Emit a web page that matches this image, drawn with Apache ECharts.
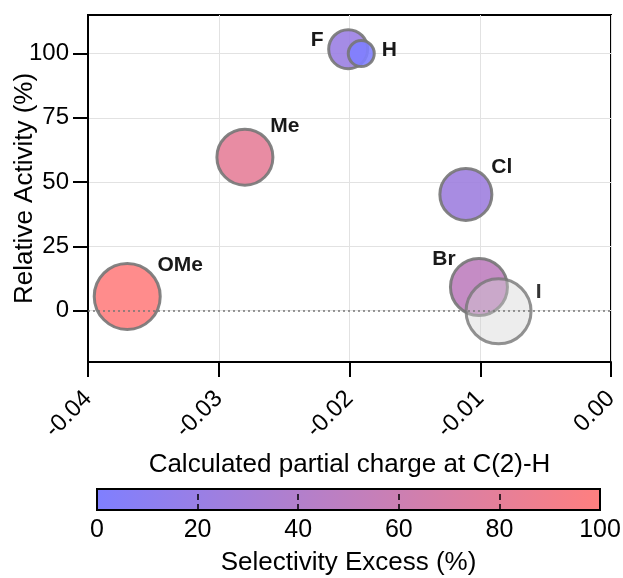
<!DOCTYPE html>
<html>
<head>
<meta charset="utf-8">
<script src="https://cdn.jsdelivr.net/npm/echarts@6/dist/echarts.min.js"></script>
<style>
  html, body { margin: 0; padding: 0; background: #fff; }
  #chart { width: 623px; height: 578px; }
</style>
</head>
<body>
<div id="chart"></div>
<script>
// substituents and their values
var groups = ['OMe', 'Me', 'F', 'H', 'Cl', 'Br', 'I'];
var charge = [-0.0370, -0.0280, -0.0201, -0.0191, -0.0111, -0.0101, -0.0086];
var activity = [5.5, 59.7, 101.7, 100, 45.2, 9.2, -0.3];
var bubbleValue = [66, 56, 39, 26, 52, 57, 65];
var selectivity = [100, 80, 22, 0, 25, 50, null]; // I has no selectivity -> grey

var yTicks = [0, 25, 50, 75, 100];
var colorTicks = [0, 20, 40, 60, 80, 100];
var colorStops = ['#7f7fff', '#ff7f7f'];

// label offsets (px) from bubble centre
var labelOffset = {
  OMe: [53, -31], Me: [40, -31], F: [-31, -9], H: [28, -3],
  Cl: [36, -27], Br: [-35, -28], I: [40, -19]
};

var FONT = 'Arial, "Liberation Sans", sans-serif';

var coloured = [], grey = [];
for (var i = 0; i < groups.length; i++) {
  var item = {
    name: groups[i],
    value: [charge[i], activity[i], bubbleValue[i], selectivity[i]],
    label: { offset: labelOffset[groups[i]] }
  };
  if (selectivity[i] === null) grey.push(item); else coloured.push(item);
}

var chart = echarts.init(document.getElementById('chart'));

var option = {
  animation: false,
  textStyle: { fontFamily: FONT },
  grid: [
    { left: 88, top: 15, width: 523, height: 347, show: true, borderColor: '#000', borderWidth: 2,
      containLabel: false, outerBoundsMode: 'none' },
    { left: 97, top: 489, width: 503, height: 21, containLabel: false, outerBoundsMode: 'none' }
  ],
  xAxis: [
    {
      gridIndex: 0, type: 'value', min: -0.04, max: 0, interval: 0.01,
      name: 'Calculated partial charge at C(2)-H',
      nameLocation: 'middle', nameGap: 90, nameMoveOverlap: false,
      nameTextStyle: { fontSize: 26, color: '#000', fontFamily: FONT },
      axisLine: { show: true, onZero: false, lineStyle: { color: '#000', width: 2 } },
      axisTick: { show: true, length: 15, lineStyle: { color: '#000', width: 2 } },
      axisLabel: {
        rotate: 45, margin: 33, fontSize: 24, color: '#000', fontFamily: FONT,
        formatter: function (v) { return v.toFixed(2); }
      },
      splitLine: { show: true, lineStyle: { color: '#e2e2e2', width: 1 } }
    },
    {
      gridIndex: 1, type: 'value', min: 0, max: 100, interval: 20, z: 5,
      name: 'Selectivity Excess (%)',
      nameLocation: 'middle', nameGap: 40, nameMoveOverlap: false,
      nameTextStyle: { fontSize: 26, color: '#000', fontFamily: FONT },
      axisLine: { show: false },
      axisTick: { show: true, inside: true, length: 21, lineStyle: { color: '#000', width: 1.5, type: [6, 4] } },
      axisLabel: { margin: 8, fontSize: 25, color: '#000', fontFamily: FONT },
      splitLine: { show: false }
    }
  ],
  yAxis: [
    {
      gridIndex: 0, type: 'value', min: -20, max: 115,
      name: 'Relative Activity (%)',
      nameLocation: 'middle', nameGap: 50, nameMoveOverlap: false,
      nameTextStyle: { fontSize: 26, color: '#000', fontFamily: FONT },
      axisLine: { show: true, onZero: false, lineStyle: { color: '#000', width: 2 } },
      axisTick: { show: true, length: 15, customValues: yTicks, lineStyle: { color: '#000', width: 2 } },
      axisLabel: { margin: 19, fontSize: 24, color: '#000', fontFamily: FONT, customValues: yTicks },
      splitLine: { show: true, lineStyle: { color: '#e2e2e2', width: 1 } }
    },
    {
      gridIndex: 1, type: 'value', min: 0, max: 1, show: false
    }
  ],
  visualMap: {
    type: 'continuous', show: false, seriesIndex: 0, dimension: 3,
    min: 0, max: 100, inRange: { color: colorStops }
  },
  series: [
    {
      type: 'scatter',
      xAxisIndex: 0, yAxisIndex: 0,
      data: coloured,
      symbolSize: function (val) { return val[2]; },
      itemStyle: { opacity: 0.9, borderColor: '#777', borderWidth: 3 },
      label: {
        show: true, position: 'inside', formatter: '{b}',
        fontSize: 21, fontWeight: 'bold', color: '#000', fontFamily: FONT
      },
      markLine: {
        silent: true, symbol: 'none',
        label: { show: false },
        lineStyle: { type: [2, 3], color: '#777', width: 1.5 },
        data: [{ yAxis: 0 }]
      }
    },
    {
      type: 'scatter',
      xAxisIndex: 0, yAxisIndex: 0,
      data: grey,
      symbolSize: function (val) { return val[2]; },
      itemStyle: { color: 'rgba(210,210,210,0.5)', borderColor: '#777', borderWidth: 3 },
      label: {
        show: true, position: 'inside', formatter: '{b}',
        fontSize: 21, fontWeight: 'bold', color: '#000', fontFamily: FONT
      }
    },
    {
      // the colour bar
      type: 'custom',
      xAxisIndex: 1, yAxisIndex: 1,
      silent: true,
      data: [[colorTicks[0], colorTicks[colorTicks.length - 1]]],
      renderItem: function (params, api) {
        var p0 = api.coord([api.value(0), 0]);
        var p1 = api.coord([api.value(1), 1]);
        return {
          type: 'rect',
          shape: { x: p0[0], y: p1[1], width: p1[0] - p0[0], height: p0[1] - p1[1] },
          style: {
            fill: new echarts.graphic.LinearGradient(0, 0, 1, 0, [
              { offset: 0, color: colorStops[0] },
              { offset: 1, color: colorStops[1] }
            ]),
            stroke: '#000', lineWidth: 2
          }
        };
      }
    }
  ]
};

chart.setOption(option);
</script>
</body>
</html>
